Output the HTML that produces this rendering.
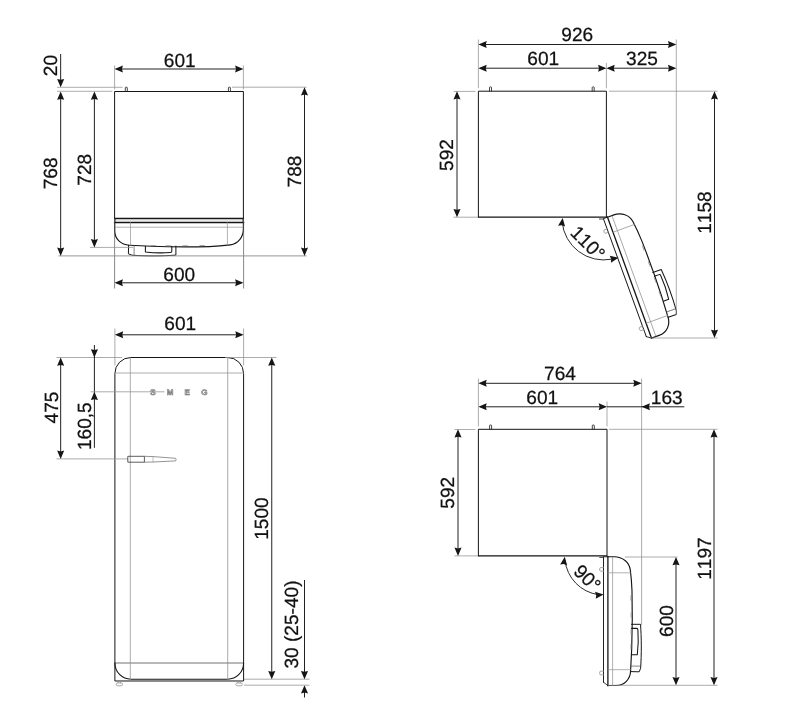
<!DOCTYPE html>
<html><head><meta charset="utf-8"><title>Dimensions</title>
<style>
html,body{margin:0;padding:0;background:#fff;}
svg{display:block;will-change:transform;}
svg text{font-family:"Liberation Sans",Arial,sans-serif;fill:#111;stroke:#111;stroke-width:0.25px;font-kerning:none;font-feature-settings:"kern" 0;text-rendering:geometricPrecision;}
</style></head>
<body>
<svg width="788" height="709" viewBox="0 0 788 709">
<rect width="788" height="709" fill="#fff"/>
<path d="M114.6,218.5 L114.6,91.5 L243.4,91.5 L243.4,218.5" stroke="#151515" stroke-width="1.0" fill="none" stroke-linejoin="round" stroke-linecap="round" />
<line x1="114.30" y1="218.50" x2="243.70" y2="218.50" stroke="#151515" stroke-width="1.3"/>
<path d="M125.3,91.5 L125.3,87.8 Q125.3,87.2 125.89999999999999,87.2 L126.7,87.2 Q127.3,87.2 127.3,87.8 L127.3,91.5" stroke="#222" stroke-width="0.85" fill="none" stroke-linejoin="round" stroke-linecap="round" />
<path d="M228.4,91.5 L228.4,87.8 Q228.4,87.2 229.0,87.2 L229.8,87.2 Q230.4,87.2 230.4,87.8 L230.4,91.5" stroke="#222" stroke-width="0.85" fill="none" stroke-linejoin="round" stroke-linecap="round" />
<g transform="matrix(-1.0000,0.0000,0.0000,1.0000,243.40,218.50)">
<g transform="translate(0,0)">
<path d="M0,4 L0,10 C0,19 5.5,25.3 13,26.4 C20,27.3 28,27.9 34,28.1 C55,28.6 75,28.4 92,27.8 L114,26.7 C122.5,26.5 128.7,20.5 128.7,12 L128.7,4" stroke="#151515" stroke-width="1.15" fill="none" stroke-linejoin="round" stroke-linecap="round" />
<path d="M-0.3,4 L129,4" stroke="#151515" stroke-width="1.3" fill="none" stroke-linejoin="round" stroke-linecap="round" />
<path d="M0.3,0 L0.3,4 M128.5,0 L128.5,4" stroke="#151515" stroke-width="1.2" fill="none" stroke-linejoin="round" stroke-linecap="round" />
<path d="M1,2.3 L127.7,2.3" stroke="#bdbdbd" stroke-width="0.5" fill="none" stroke-linejoin="round" stroke-linecap="round" />
<path d="M0.5,8.7 L128.2,8.7" stroke="#909090" stroke-width="0.7" fill="none" stroke-linejoin="round" stroke-linecap="round" />
<path d="M16,4 L16,26.6 M112.9,4 L112.9,26.7" stroke="#909090" stroke-width="0.7" fill="none" stroke-linejoin="round" stroke-linecap="round" />
<path d="M39,27.0 L43.5,27.0 M56,27.2 L60.5,27.2 M73,27.2 L77.5,27.2 M88,27.0 L92.5,27.0" stroke="#909090" stroke-width="0.8" fill="none" stroke-linejoin="round" stroke-linecap="round" />
<path d="M67.5,27.6 L67.5,36.6 C80,37.6 98,37.7 111.5,36.7 L115,35.3 L114.8,26.8" stroke="#151515" stroke-width="1.0" fill="none" stroke-linejoin="round" stroke-linecap="round" />
<path d="M109.3,27.2 L109.3,36.7" stroke="#555" stroke-width="0.7" fill="none" stroke-linejoin="round" stroke-linecap="round" />
<path d="M71.6,27.8 L71.6,32.8 Q71.6,34 73,34 C82,34.7 90,34.4 98,33.4 L98,27.8" stroke="#151515" stroke-width="1.05" fill="none" stroke-linejoin="round" stroke-linecap="round" />
</g>
</g>
<line x1="114.60" y1="65.40" x2="114.60" y2="89.50" stroke="#909090" stroke-width="0.75"/>
<line x1="243.40" y1="65.40" x2="243.40" y2="89.50" stroke="#909090" stroke-width="0.75"/>
<line x1="114.60" y1="218.50" x2="114.60" y2="288.50" stroke="#555" stroke-width="0.7"/>
<line x1="243.60" y1="218.50" x2="243.60" y2="288.50" stroke="#555" stroke-width="0.7"/>
<line x1="57.00" y1="87.30" x2="122.60" y2="87.30" stroke="#909090" stroke-width="0.75"/>
<line x1="57.00" y1="91.30" x2="112.40" y2="91.30" stroke="#909090" stroke-width="0.75"/>
<line x1="232.00" y1="87.20" x2="306.60" y2="87.20" stroke="#909090" stroke-width="0.75"/>
<line x1="90.00" y1="247.40" x2="133.00" y2="247.40" stroke="#909090" stroke-width="0.75"/>
<line x1="58.50" y1="255.90" x2="306.60" y2="255.90" stroke="#8a8a8a" stroke-width="0.9"/>
<line x1="116.60" y1="69.00" x2="241.40" y2="69.00" stroke="#151515" stroke-width="0.95"/>
<polygon points="114.60,69.00 122.90,65.45 122.00,69.00 122.90,72.55" fill="#151515"/>
<polygon points="243.40,69.00 235.10,72.55 236.00,69.00 235.10,65.45" fill="#151515"/>
<text x="179.70" y="66.60" font-size="19.1" text-anchor="middle">601</text>
<line x1="116.60" y1="282.80" x2="241.40" y2="282.80" stroke="#151515" stroke-width="0.95"/>
<polygon points="114.60,282.80 122.90,279.25 122.00,282.80 122.90,286.35" fill="#151515"/>
<polygon points="243.40,282.80 235.10,286.35 236.00,282.80 235.10,279.25" fill="#151515"/>
<text x="179.30" y="280.60" font-size="19.1" text-anchor="middle">600</text>
<line x1="60.66" y1="54.00" x2="60.66" y2="85.20" stroke="#151515" stroke-width="0.95"/>
<polygon points="60.66,87.20 57.11,78.90 60.66,79.80 64.21,78.90" fill="#151515"/>
<text x="57.30" y="65.60" font-size="19.1" text-anchor="middle" transform="rotate(-90 57.30 65.60)">20</text>
<line x1="60.66" y1="93.50" x2="60.66" y2="253.90" stroke="#151515" stroke-width="0.95"/>
<polygon points="60.66,91.50 64.21,99.80 60.66,98.90 57.11,99.80" fill="#151515"/>
<polygon points="60.66,255.90 57.11,247.60 60.66,248.50 64.21,247.60" fill="#151515"/>
<text x="57.30" y="173.40" font-size="19.1" text-anchor="middle" transform="rotate(-90 57.30 173.40)">768</text>
<line x1="94.40" y1="93.50" x2="94.40" y2="245.40" stroke="#151515" stroke-width="0.95"/>
<polygon points="94.40,91.50 97.95,99.80 94.40,98.90 90.85,99.80" fill="#151515"/>
<polygon points="94.40,247.40 90.85,239.10 94.40,240.00 97.95,239.10" fill="#151515"/>
<text x="90.60" y="169.70" font-size="19.1" text-anchor="middle" transform="rotate(-90 90.60 169.70)">728</text>
<line x1="304.50" y1="89.20" x2="304.50" y2="253.90" stroke="#151515" stroke-width="0.95"/>
<polygon points="304.50,87.20 308.05,95.50 304.50,94.60 300.95,95.50" fill="#151515"/>
<polygon points="304.50,255.90 300.95,247.60 304.50,248.50 308.05,247.60" fill="#151515"/>
<text x="301.20" y="171.50" font-size="19.1" text-anchor="middle" transform="rotate(-90 301.20 171.50)">788</text>
<path d="M114.9,680.6 L114.9,373.5 A16,16 0 0 1 130.9,357.5 L227.6,357.5 A16,16 0 0 1 243.6,373.5 L243.6,680.6 Z" stroke="#151515" stroke-width="1.0" fill="none" stroke-linejoin="round" stroke-linecap="round" />
<path d="M114.9,663 A16,16 0 0 0 130.9,679.2 L227.6,679.2 A16,16 0 0 0 243.6,663" stroke="#151515" stroke-width="1.1" fill="none" stroke-linejoin="round" stroke-linecap="round" />
<line x1="114.90" y1="663.00" x2="243.60" y2="663.00" stroke="#333" stroke-width="0.7"/>
<line x1="130.30" y1="357.50" x2="130.30" y2="680.60" stroke="#909090" stroke-width="0.75"/>
<line x1="227.70" y1="357.50" x2="227.70" y2="680.60" stroke="#909090" stroke-width="0.75"/>
<line x1="114.90" y1="373.00" x2="243.60" y2="373.00" stroke="#909090" stroke-width="0.75"/>
<path d="M118.1,680.6 L118.1,683.0 M120.5,680.6 L120.5,683.0" stroke="#909090" stroke-width="0.7" fill="none" stroke-linejoin="round" stroke-linecap="round" />
<rect x="116.10" y="682.90" width="6.4" height="2.9" rx="1.4" fill="none" stroke="#909090" stroke-width="0.75"/>
<path d="M237.9,680.6 L237.9,683.0 M240.29999999999998,680.6 L240.29999999999998,683.0" stroke="#909090" stroke-width="0.7" fill="none" stroke-linejoin="round" stroke-linecap="round" />
<rect x="235.90" y="682.90" width="6.4" height="2.9" rx="1.4" fill="none" stroke="#909090" stroke-width="0.75"/>
<line x1="114.90" y1="328.50" x2="114.90" y2="365.50" stroke="#909090" stroke-width="0.75"/>
<line x1="243.60" y1="328.50" x2="243.60" y2="365.50" stroke="#909090" stroke-width="0.75"/>
<line x1="56.50" y1="357.50" x2="122.00" y2="357.50" stroke="#909090" stroke-width="0.75"/>
<line x1="225.00" y1="357.50" x2="276.50" y2="357.50" stroke="#909090" stroke-width="0.75"/>
<line x1="56.50" y1="458.90" x2="128.00" y2="458.90" stroke="#909090" stroke-width="0.75"/>
<line x1="244.00" y1="679.20" x2="309.50" y2="679.20" stroke="#909090" stroke-width="0.75"/>
<line x1="244.00" y1="685.20" x2="309.50" y2="685.20" stroke="#909090" stroke-width="0.75"/>
<line x1="116.90" y1="334.80" x2="241.60" y2="334.80" stroke="#151515" stroke-width="0.95"/>
<polygon points="114.90,334.80 123.20,331.25 122.30,334.80 123.20,338.35" fill="#151515"/>
<polygon points="243.60,334.80 235.30,338.35 236.20,334.80 235.30,331.25" fill="#151515"/>
<text x="180.30" y="330.20" font-size="19.1" text-anchor="middle">601</text>
<line x1="60.66" y1="359.50" x2="60.66" y2="456.90" stroke="#151515" stroke-width="0.95"/>
<polygon points="60.66,357.50 64.21,365.80 60.66,364.90 57.11,365.80" fill="#151515"/>
<polygon points="60.66,458.90 57.11,450.60 60.66,451.50 64.21,450.60" fill="#151515"/>
<text x="57.50" y="407.50" font-size="19.1" text-anchor="middle" transform="rotate(-90 57.50 407.50)">475</text>
<line x1="94.40" y1="345.00" x2="94.40" y2="447.80" stroke="#151515" stroke-width="0.95"/>
<polygon points="94.40,357.50 90.85,349.20 94.40,350.10 97.95,349.20" fill="#151515"/>
<polygon points="94.40,391.80 97.95,400.10 94.40,399.20 90.85,400.10" fill="#151515"/>
<text x="91.00" y="426.20" font-size="19.1" text-anchor="middle" transform="rotate(-90 91.00 426.20)">160,5</text>
<line x1="271.75" y1="359.50" x2="271.75" y2="677.20" stroke="#151515" stroke-width="0.95"/>
<polygon points="271.75,357.50 275.30,365.80 271.75,364.90 268.20,365.80" fill="#151515"/>
<polygon points="271.75,679.20 268.20,670.90 271.75,671.80 275.30,670.90" fill="#151515"/>
<text x="268.30" y="518.50" font-size="19.1" text-anchor="middle" transform="rotate(-90 268.30 518.50)">1500</text>
<line x1="304.50" y1="580.00" x2="304.50" y2="677.20" stroke="#151515" stroke-width="0.95"/>
<polygon points="304.50,679.20 300.95,670.90 304.50,671.80 308.05,670.90" fill="#151515"/>
<line x1="304.50" y1="687.20" x2="304.50" y2="697.50" stroke="#151515" stroke-width="0.95"/>
<polygon points="304.50,685.20 308.05,693.50 304.50,692.60 300.95,693.50" fill="#151515"/>
<text x="298.40" y="624.50" font-size="19.1" text-anchor="middle" transform="rotate(-90 298.40 624.50)">30 (25-40)</text>
<line x1="90.50" y1="391.80" x2="164.40" y2="391.80" stroke="#909090" stroke-width="0.75"/>
<text x="152.90" y="394.7" font-size="8" font-weight="bold" text-anchor="middle" style="fill:#c4c4c4;stroke:#707070;stroke-width:0.55">S</text>
<text x="170.00" y="394.7" font-size="8" font-weight="bold" text-anchor="middle" style="fill:#c4c4c4;stroke:#707070;stroke-width:0.55">M</text>
<text x="187.20" y="394.7" font-size="8" font-weight="bold" text-anchor="middle" style="fill:#c4c4c4;stroke:#707070;stroke-width:0.55">E</text>
<text x="204.40" y="394.7" font-size="8" font-weight="bold" text-anchor="middle" style="fill:#c4c4c4;stroke:#707070;stroke-width:0.55">G</text>
<path d="M128.2,456.3 L144.4,456.3 L144.4,462.2 L128.2,462.2 Z" stroke="#333" stroke-width="0.8" fill="none" stroke-linejoin="round" stroke-linecap="round" />
<path d="M144.4,456.3 L153,456.6 L175.6,458.3 L176.1,459.6 L175.6,460.9 L153,462 L144.4,462.2" stroke="#777" stroke-width="0.8" fill="none" stroke-linejoin="round" stroke-linecap="round" />
<path d="M153,456.6 L153,462" stroke="#999" stroke-width="0.6" fill="none" stroke-linejoin="round" stroke-linecap="round" />
<path d="M478.4,217.2 L478.4,91.2 L606.4,91.2 L606.4,217.2" stroke="#151515" stroke-width="1.0" fill="none" stroke-linejoin="round" stroke-linecap="round" />
<line x1="478.10" y1="217.20" x2="606.40" y2="217.20" stroke="#151515" stroke-width="1.2"/>
<line x1="599.00" y1="219.00" x2="603.40" y2="219.00" stroke="#151515" stroke-width="0.8"/>
<path d="M489.5,91.2 L489.5,87.5 Q489.5,86.9 490.1,86.9 L490.9,86.9 Q491.5,86.9 491.5,87.5 L491.5,91.2" stroke="#222" stroke-width="0.85" fill="none" stroke-linejoin="round" stroke-linecap="round" />
<path d="M592.2,91.2 L592.2,87.5 Q592.2,86.9 592.8000000000001,86.9 L593.6,86.9 Q594.2,86.9 594.2,87.5 L594.2,91.2" stroke="#222" stroke-width="0.85" fill="none" stroke-linejoin="round" stroke-linecap="round" />
<g transform="matrix(0.3420,0.9397,0.9397,-0.3420,603.40,218.70)">
<g transform="translate(0,0.4)">
<path d="M0,4 L0,10 C0,19 5.5,25.3 13,26.4 C20,27.3 28,27.9 34,28.1 C55,28.6 75,28.4 92,27.8 L114,26.7 C122.5,26.5 128.7,20.5 128.7,12 L128.7,4" stroke="#151515" stroke-width="1.15" fill="none" stroke-linejoin="round" stroke-linecap="round" />
<path d="M-0.3,4 L129,4" stroke="#151515" stroke-width="1.3" fill="none" stroke-linejoin="round" stroke-linecap="round" />
<path d="M0.5,8.7 L128.2,8.7" stroke="#909090" stroke-width="0.7" fill="none" stroke-linejoin="round" stroke-linecap="round" />
<path d="M16,4 L16,26.6 M112.9,4 L112.9,26.7" stroke="#909090" stroke-width="0.7" fill="none" stroke-linejoin="round" stroke-linecap="round" />
<path d="M39,27.0 L43.5,27.0 M56,27.2 L60.5,27.2 M73,27.2 L77.5,27.2 M88,27.0 L92.5,27.0" stroke="#909090" stroke-width="0.8" fill="none" stroke-linejoin="round" stroke-linecap="round" />
<path d="M67.5,27.6 L67.5,36.6 C80,37.6 98,37.7 111.5,36.7 L115,35.3 L114.8,26.8" stroke="#151515" stroke-width="1.0" fill="none" stroke-linejoin="round" stroke-linecap="round" />
<path d="M109.3,27.2 L109.3,36.7" stroke="#555" stroke-width="0.7" fill="none" stroke-linejoin="round" stroke-linecap="round" />
<path d="M71.6,27.8 L71.6,32.8 Q71.6,34 73,34 C82,34.7 90,34.4 98,33.4 L98,27.8" stroke="#151515" stroke-width="1.05" fill="none" stroke-linejoin="round" stroke-linecap="round" />
</g>
<path d="M0.5,0 L125.5,0" stroke="#151515" stroke-width="0.95" fill="none" stroke-linejoin="round" stroke-linecap="round" />
<path d="M0,0 L0,4.4" stroke="#151515" stroke-width="0.8" fill="none" stroke-linejoin="round" stroke-linecap="round" />
<path d="M125.5,0 L128.7,4.4" stroke="#151515" stroke-width="0.8" fill="none" stroke-linejoin="round" stroke-linecap="round" />
<path d="M10.8,0 L10.8,-2.8 Q10.8,-3.8 11.8,-3.8 L13.4,-3.8 Q14.4,-3.8 14.4,-2.8 L14.4,0" stroke="#909090" stroke-width="0.8" fill="none" stroke-linejoin="round" stroke-linecap="round" />
<path d="M114.4,0 L114.4,-2.8 Q114.4,-3.8 115.4,-3.8 L117,-3.8 Q118,-3.8 118,-2.8 L118,0" stroke="#909090" stroke-width="0.8" fill="none" stroke-linejoin="round" stroke-linecap="round" />
</g>
<line x1="478.40" y1="39.50" x2="478.40" y2="88.20" stroke="#909090" stroke-width="0.75"/>
<line x1="606.40" y1="63.00" x2="606.40" y2="88.20" stroke="#909090" stroke-width="0.75"/>
<line x1="676.30" y1="39.50" x2="676.30" y2="315.00" stroke="#909090" stroke-width="0.75"/>
<line x1="453.50" y1="91.40" x2="475.40" y2="91.40" stroke="#909090" stroke-width="0.75"/>
<line x1="609.00" y1="91.20" x2="717.50" y2="91.20" stroke="#909090" stroke-width="0.75"/>
<line x1="453.50" y1="217.20" x2="477.90" y2="217.20" stroke="#909090" stroke-width="0.75"/>
<line x1="650.00" y1="338.00" x2="717.50" y2="338.00" stroke="#909090" stroke-width="0.75"/>
<line x1="480.40" y1="44.50" x2="674.30" y2="44.50" stroke="#151515" stroke-width="0.95"/>
<polygon points="478.40,44.50 486.70,40.95 485.80,44.50 486.70,48.05" fill="#151515"/>
<polygon points="676.30,44.50 668.00,48.05 668.90,44.50 668.00,40.95" fill="#151515"/>
<text x="577.30" y="41.10" font-size="19.1" text-anchor="middle">926</text>
<line x1="480.40" y1="68.20" x2="604.40" y2="68.20" stroke="#151515" stroke-width="0.95"/>
<polygon points="478.40,68.20 486.70,64.65 485.80,68.20 486.70,71.75" fill="#151515"/>
<polygon points="606.40,68.20 598.10,71.75 599.00,68.20 598.10,64.65" fill="#151515"/>
<text x="543.20" y="64.90" font-size="19.1" text-anchor="middle">601</text>
<line x1="608.40" y1="68.20" x2="674.30" y2="68.20" stroke="#151515" stroke-width="0.95"/>
<polygon points="606.40,68.20 614.70,64.65 613.80,68.20 614.70,71.75" fill="#151515"/>
<polygon points="676.30,68.20 668.00,71.75 668.90,68.20 668.00,64.65" fill="#151515"/>
<text x="642.00" y="64.90" font-size="19.1" text-anchor="middle">325</text>
<line x1="457.00" y1="93.20" x2="457.00" y2="215.20" stroke="#151515" stroke-width="0.95"/>
<polygon points="457.00,91.20 460.55,99.50 457.00,98.60 453.45,99.50" fill="#151515"/>
<polygon points="457.00,217.20 453.45,208.90 457.00,209.80 460.55,208.90" fill="#151515"/>
<text x="452.60" y="155.00" font-size="19.1" text-anchor="middle" transform="rotate(-90 452.60 155.00)">592</text>
<line x1="714.50" y1="93.20" x2="714.50" y2="336.00" stroke="#151515" stroke-width="0.95"/>
<polygon points="714.50,91.20 718.05,99.50 714.50,98.60 710.95,99.50" fill="#151515"/>
<polygon points="714.50,338.00 710.95,329.70 714.50,330.60 718.05,329.70" fill="#151515"/>
<text x="711.20" y="212.60" font-size="19.1" text-anchor="middle" transform="rotate(-90 711.20 212.60)">1158</text>
<path d="M562.16,222.12 A41.5,41.5 0 0 0 611.42,259.24" stroke="#151515" stroke-width="0.9" fill="none" stroke-linejoin="round" stroke-linecap="round" />
<polygon points="562.70,217.90 565.06,226.61 561.67,225.23 558.03,225.63" fill="#151515"/>
<polygon points="618.49,257.80 610.94,262.73 611.21,259.08 609.70,255.74" fill="#151515"/>
<text x="583.20" y="247.70" font-size="19.1" text-anchor="middle" transform="rotate(45 583.20 247.70)">110°</text>
<path d="M478.4,555.9 L478.4,429.3 L607.0,429.3 L607.0,555.9" stroke="#151515" stroke-width="1.0" fill="none" stroke-linejoin="round" stroke-linecap="round" />
<line x1="478.10" y1="555.90" x2="607.00" y2="555.90" stroke="#151515" stroke-width="1.2"/>
<line x1="599.30" y1="557.40" x2="603.40" y2="557.40" stroke="#151515" stroke-width="0.8"/>
<path d="M489.6,429.3 L489.6,425.6 Q489.6,425.0 490.20000000000005,425.0 L491.0,425.0 Q491.6,425.0 491.6,425.6 L491.6,429.3" stroke="#222" stroke-width="0.85" fill="none" stroke-linejoin="round" stroke-linecap="round" />
<path d="M592.3,429.3 L592.3,425.6 Q592.3,425.0 592.9,425.0 L593.6999999999999,425.0 Q594.3,425.0 594.3,425.6 L594.3,429.3" stroke="#222" stroke-width="0.85" fill="none" stroke-linejoin="round" stroke-linecap="round" />
<g transform="matrix(0.0000,1.0000,1.0000,0.0000,603.50,556.80)">
<g transform="translate(0,0.4)">
<path d="M0,4 L0,10 C0,19 5.5,25.3 13,26.4 C20,27.3 28,27.9 34,28.1 C55,28.6 75,28.4 92,27.8 L114,26.7 C122.5,26.5 128.7,20.5 128.7,12 L128.7,4" stroke="#151515" stroke-width="1.15" fill="none" stroke-linejoin="round" stroke-linecap="round" />
<path d="M-0.3,4 L129,4" stroke="#151515" stroke-width="1.3" fill="none" stroke-linejoin="round" stroke-linecap="round" />
<path d="M0.5,8.7 L128.2,8.7" stroke="#909090" stroke-width="0.7" fill="none" stroke-linejoin="round" stroke-linecap="round" />
<path d="M16,4 L16,26.6 M112.9,4 L112.9,26.7" stroke="#909090" stroke-width="0.7" fill="none" stroke-linejoin="round" stroke-linecap="round" />
<path d="M39,27.0 L43.5,27.0 M56,27.2 L60.5,27.2 M73,27.2 L77.5,27.2 M88,27.0 L92.5,27.0" stroke="#909090" stroke-width="0.8" fill="none" stroke-linejoin="round" stroke-linecap="round" />
<path d="M67.5,27.6 L67.5,36.6 C80,37.6 98,37.7 111.5,36.7 L115,35.3 L114.8,26.8" stroke="#151515" stroke-width="1.0" fill="none" stroke-linejoin="round" stroke-linecap="round" />
<path d="M109.3,27.2 L109.3,36.7" stroke="#555" stroke-width="0.7" fill="none" stroke-linejoin="round" stroke-linecap="round" />
<path d="M71.6,27.8 L71.6,32.8 Q71.6,34 73,34 C82,34.7 90,34.4 98,33.4 L98,27.8" stroke="#151515" stroke-width="1.05" fill="none" stroke-linejoin="round" stroke-linecap="round" />
</g>
<path d="M0.5,0 L125.5,0" stroke="#151515" stroke-width="0.95" fill="none" stroke-linejoin="round" stroke-linecap="round" />
<path d="M0,0 L0,4.4" stroke="#151515" stroke-width="0.8" fill="none" stroke-linejoin="round" stroke-linecap="round" />
<path d="M125.5,0 L128.7,4.4" stroke="#151515" stroke-width="0.8" fill="none" stroke-linejoin="round" stroke-linecap="round" />
<path d="M10.8,0 L10.8,-2.8 Q10.8,-3.8 11.8,-3.8 L13.4,-3.8 Q14.4,-3.8 14.4,-2.8 L14.4,0" stroke="#909090" stroke-width="0.8" fill="none" stroke-linejoin="round" stroke-linecap="round" />
<path d="M114.4,0 L114.4,-2.8 Q114.4,-3.8 115.4,-3.8 L117,-3.8 Q118,-3.8 118,-2.8 L118,0" stroke="#909090" stroke-width="0.8" fill="none" stroke-linejoin="round" stroke-linecap="round" />
</g>
<line x1="478.40" y1="378.50" x2="478.40" y2="426.30" stroke="#909090" stroke-width="0.75"/>
<line x1="607.00" y1="401.50" x2="607.00" y2="426.30" stroke="#909090" stroke-width="0.75"/>
<line x1="641.60" y1="378.50" x2="641.60" y2="625.00" stroke="#909090" stroke-width="0.75"/>
<line x1="454.50" y1="429.50" x2="475.40" y2="429.50" stroke="#909090" stroke-width="0.75"/>
<line x1="609.00" y1="429.30" x2="717.50" y2="429.30" stroke="#909090" stroke-width="0.75"/>
<line x1="454.50" y1="555.90" x2="477.90" y2="555.90" stroke="#909090" stroke-width="0.75"/>
<line x1="625.00" y1="557.00" x2="677.50" y2="557.00" stroke="#909090" stroke-width="0.75"/>
<line x1="608.00" y1="685.30" x2="717.50" y2="685.30" stroke="#909090" stroke-width="0.75"/>
<line x1="480.40" y1="383.30" x2="639.60" y2="383.30" stroke="#151515" stroke-width="0.95"/>
<polygon points="478.40,383.30 486.70,379.75 485.80,383.30 486.70,386.85" fill="#151515"/>
<polygon points="641.60,383.30 633.30,386.85 634.20,383.30 633.30,379.75" fill="#151515"/>
<text x="560.00" y="380.30" font-size="19.1" text-anchor="middle">764</text>
<line x1="480.40" y1="406.80" x2="605.00" y2="406.80" stroke="#151515" stroke-width="0.95"/>
<polygon points="478.40,406.80 486.70,403.25 485.80,406.80 486.70,410.35" fill="#151515"/>
<polygon points="607.00,406.80 598.70,410.35 599.60,406.80 598.70,403.25" fill="#151515"/>
<text x="542.20" y="403.60" font-size="19.1" text-anchor="middle">601</text>
<line x1="607.00" y1="406.80" x2="684.30" y2="406.80" stroke="#151515" stroke-width="0.95"/>
<polygon points="641.60,406.80 649.90,403.25 649.00,406.80 649.90,410.35" fill="#151515"/>
<text x="666.80" y="403.60" font-size="19.1" text-anchor="middle">163</text>
<line x1="458.00" y1="431.30" x2="458.00" y2="553.90" stroke="#151515" stroke-width="0.95"/>
<polygon points="458.00,429.30 461.55,437.60 458.00,436.70 454.45,437.60" fill="#151515"/>
<polygon points="458.00,555.90 454.45,547.60 458.00,548.50 461.55,547.60" fill="#151515"/>
<text x="454.00" y="492.80" font-size="19.1" text-anchor="middle" transform="rotate(-90 454.00 492.80)">592</text>
<line x1="714.00" y1="431.30" x2="714.00" y2="683.30" stroke="#151515" stroke-width="0.95"/>
<polygon points="714.00,429.30 717.55,437.60 714.00,436.70 710.45,437.60" fill="#151515"/>
<polygon points="714.00,685.30 710.45,677.00 714.00,677.90 717.55,677.00" fill="#151515"/>
<text x="710.80" y="558.50" font-size="19.1" text-anchor="middle" transform="rotate(-90 710.80 558.50)">1197</text>
<line x1="676.00" y1="559.00" x2="676.00" y2="683.30" stroke="#151515" stroke-width="0.95"/>
<polygon points="676.00,557.00 679.55,565.30 676.00,564.40 672.45,565.30" fill="#151515"/>
<polygon points="676.00,685.30 672.45,677.00 676.00,677.90 679.55,677.00" fill="#151515"/>
<text x="672.60" y="621.00" font-size="19.1" text-anchor="middle" transform="rotate(-90 672.60 621.00)">600</text>
<path d="M565.01,560.43 A38.6,38.6 0 0 0 598.03,594.62" stroke="#151515" stroke-width="0.9" fill="none" stroke-linejoin="round" stroke-linecap="round" />
<polygon points="564.80,556.70 567.16,565.41 563.77,564.03 560.13,564.43" fill="#151515"/>
<polygon points="603.60,594.40 595.72,598.80 596.24,595.17 594.97,591.74" fill="#151515"/>
<text x="582.60" y="582.80" font-size="19.1" text-anchor="middle" transform="rotate(45 582.60 582.80)">90°</text>
</svg>
</body></html>
